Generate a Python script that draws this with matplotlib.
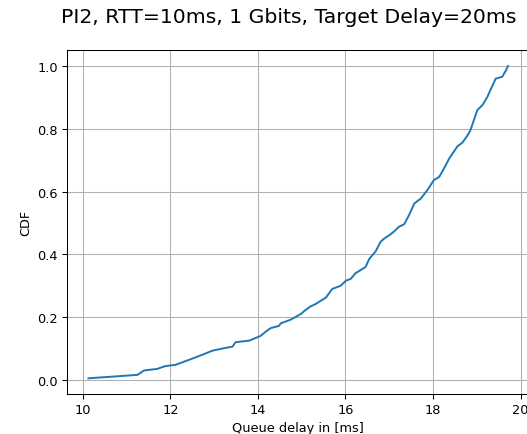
import matplotlib
matplotlib.use('Agg')
import matplotlib.pyplot as plt

# queue delay samples (ms) and cumulative fraction
delay_ms = [10.13, 11.25, 11.40, 11.70, 11.89, 12.12, 12.43, 12.73, 12.96, 13.19,
            13.42, 13.49, 13.80, 14.06, 14.18, 14.29, 14.48, 14.52, 14.75, 14.98,
            15.09, 15.20, 15.32, 15.55, 15.70, 15.89, 16.01, 16.12, 16.23, 16.46,
            16.54, 16.69, 16.80, 16.88, 17.01, 17.11, 17.22, 17.34, 17.45, 17.57,
            17.72, 17.87, 18.02, 18.14, 18.25, 18.37, 18.56, 18.67, 18.79, 18.85,
            18.90, 19.01, 19.13, 19.24, 19.31, 19.43, 19.58, 19.65, 19.71]
cdf = [0.005, 0.016, 0.030, 0.035, 0.044, 0.048, 0.064, 0.080, 0.093, 0.100,
       0.106, 0.120, 0.125, 0.140, 0.154, 0.165, 0.172, 0.180, 0.192, 0.210,
       0.223, 0.234, 0.242, 0.262, 0.290, 0.300, 0.316, 0.322, 0.340, 0.360,
       0.385, 0.410, 0.440, 0.450, 0.462, 0.473, 0.488, 0.496, 0.525, 0.562,
       0.578, 0.605, 0.637, 0.647, 0.674, 0.706, 0.745, 0.756, 0.780, 0.795,
       0.815, 0.860, 0.876, 0.902, 0.924, 0.960, 0.966, 0.983, 1.000]

x_ticks = [10, 12, 14, 16, 18, 20]
y_ticks = [0.0, 0.2, 0.4, 0.6, 0.8, 1.0]

fs = 9.3
fig = plt.figure(figsize=(5.27, 4.35), dpi=100)
ax = fig.add_axes([67.4 / 527, 40 / 435, 461.6 / 527, 343.6 / 435])

ax.plot(delay_ms, cdf, c='#1f77b4', lw=1.4)
ax.set_xlim(9.65, 20.19)
ax.set_ylim(-0.045, 1.05)
ax.set_xticks(x_ticks)
ax.set_yticks(y_ticks)
ax.set_yticklabels(['%.1f' % v for v in y_ticks])
ax.tick_params(labelsize=fs, length=3.3, width=0.75)
ax.grid(True, color='#b0b0b0', lw=0.75)
for s in ax.spines.values():
    s.set_linewidth(0.75)

ax.set_xlabel('Queue delay in [ms]', fontsize=fs, labelpad=3)
ax.set_ylabel('CDF', fontsize=fs, labelpad=4)

fig.text(289 / 527, 1 - 22.7 / 435, 'PI2, RTT=10ms, 1 Gbits, Target Delay=20ms',
         fontsize=14.7, ha='center', va='baseline')

fig.savefig('out.png', dpi=100)
